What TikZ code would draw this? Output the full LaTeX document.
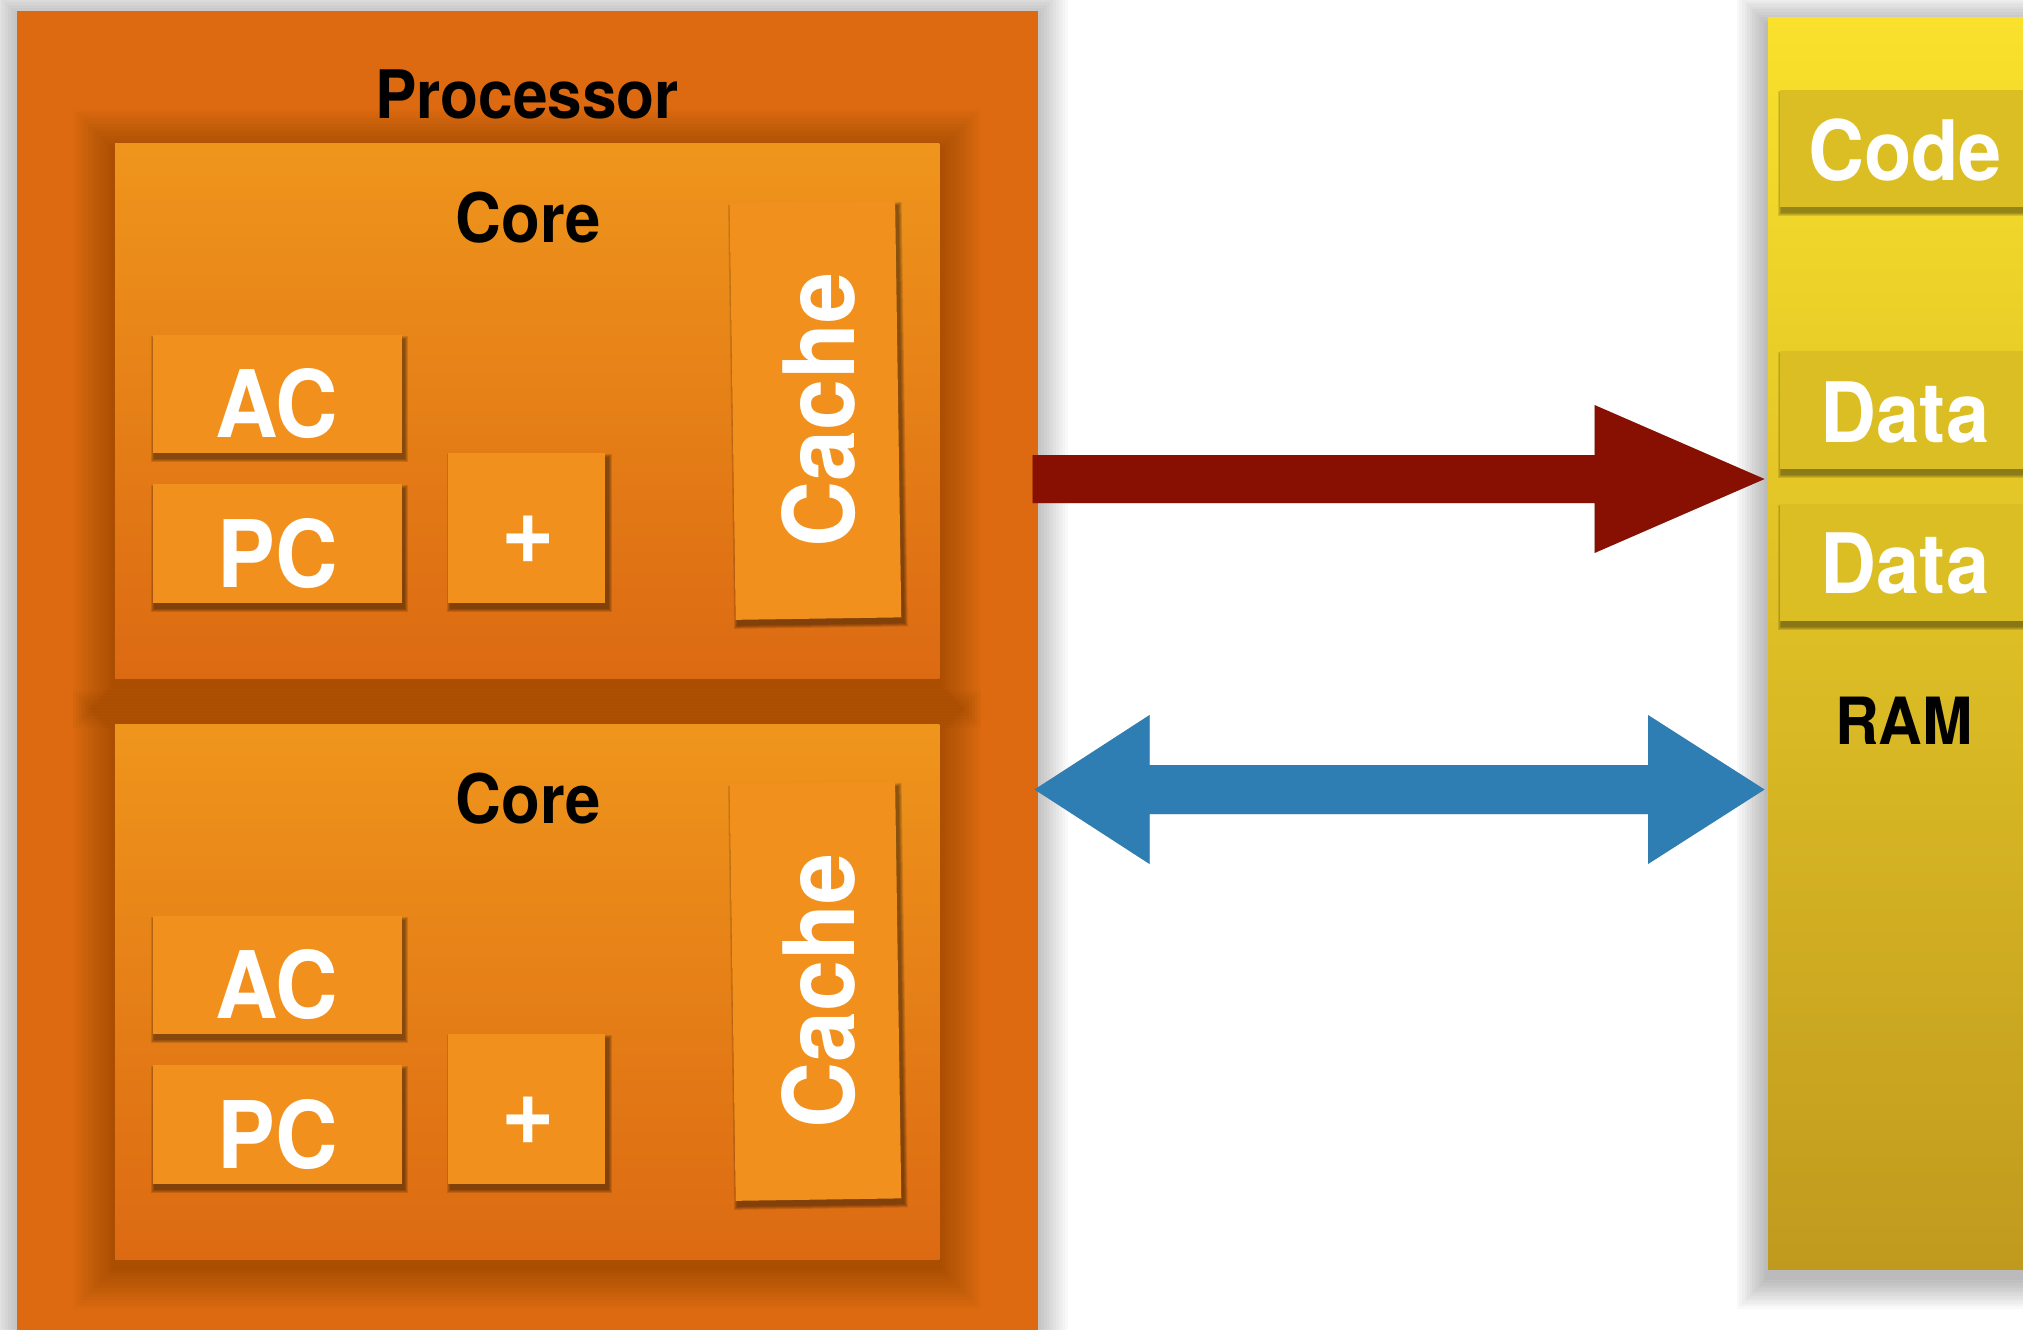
\documentclass[tikz,border=0pt]{standalone}
\usepackage{fontspec}
\setmainfont{TeX Gyre Heros}
\newfontfamily\labelfont[FakeStretch=0.93]{TeX Gyre Heros}
\usetikzlibrary{calc}

\definecolor{procfill}{HTML}{DD6A10}
\definecolor{coretop}{HTML}{EF951C}
\definecolor{corebot}{HTML}{DC6A12}
\definecolor{unitfill}{HTML}{F1901C}
\definecolor{ramtop}{HTML}{F9E12C}
\definecolor{rambot}{HTML}{C09A1E}
\definecolor{slotfill}{HTML}{DBBD24}
\definecolor{fetchred}{HTML}{881002}
\definecolor{busblue}{HTML}{2E7DB3}

\pgfdeclarelayer{shadowA}
\pgfdeclarelayer{blockA}
\pgfdeclarelayer{shadowB}
\pgfdeclarelayer{blockB}
\pgfdeclarelayer{shadowC}
\pgfsetlayers{shadowA,blockA,shadowB,blockB,shadowC,main}

% soft drop shadow round a node: #1 node, #2 layers, #3 growth per layer,
% #4 opacity per layer, #5 x offset, #6 y offset (picture units, y downwards)
\newcommand{\softshadow}[6]{%
  \foreach \k in {1,...,#2}{%
    \fill[black, fill opacity=#4]
      ($(#1.north west)+({#5-\k*#3},{#6-\k*#3})$) --
      ($(#1.north east)+({#5+\k*#3},{#6-\k*#3})$) --
      ($(#1.south east)+({#5+\k*#3},{#6+\k*#3})$) --
      ($(#1.south west)+({#5-\k*#3},{#6+\k*#3})$) -- cycle;
  }}

\tikzset{
  box/.style={inner sep=0pt, outer sep=0pt, anchor=north west},
  procbox/.style={box, fill=procfill},
  corebox/.style={box, top color=coretop, bottom color=corebot,
    minimum width=8.24cm, minimum height=5.35cm},
  unitbox/.style={box, fill=unitfill},
  rambox/.style={box, top color=ramtop, bottom color=rambot},
  slotbox/.style={box, fill=slotfill, minimum width=3cm},
  titletext/.style={font=\labelfont\bfseries\fontsize{19}{22}\selectfont, anchor=base, inner sep=0pt},
  unittext/.style={font=\labelfont\bfseries\fontsize{26.5}{30}\selectfont, text=white, anchor=base, inner sep=0pt},
  cachetext/.style={font=\labelfont\bfseries\fontsize{28}{32}\selectfont, text=white, anchor=base, inner sep=0pt, rotate=90},
  slottext/.style={font=\labelfont\bfseries\fontsize{23.7}{28}\selectfont, text=white, anchor=base, inner sep=0pt},
}

\begin{document}
\begin{tikzpicture}[x=0.01cm, y=-0.01cm]
\useasboundingbox (0,0) rectangle (2023,1329);
\clip (0,0) rectangle (2023,1329);
\begin{pgfonlayer}{shadowA}
  \fill[white] (0,0) rectangle (2023,1329);
\end{pgfonlayer}

% processor package and main memory
\begin{pgfonlayer}{blockA}
  \node[procbox, minimum width=10.20cm, minimum height=13.9cm] (proc) at (17,11) {};
  \node[rambox, minimum width=3.4cm, minimum height=12.52cm] (ram) at (1768,17) {};
\end{pgfonlayer}
\begin{pgfonlayer}{shadowA}
  \softshadow{proc}{10}{3}{0.022}{0}{3}
  \softshadow{ram}{12}{2.6}{0.025}{0}{8}
\end{pgfonlayer}
\node[titletext] (proclabel) at (527,118) {Processor};

% memory slots
\begin{pgfonlayer}{blockB}
  \node[slotbox, minimum height=1.17cm] (code) at (1780,90) {};
  \node[slotbox, minimum height=1.18cm] (data1) at (1780,351) {};
  \node[slotbox, minimum height=1.17cm] (data2) at (1780,504) {};
\end{pgfonlayer}
\begin{pgfonlayer}{shadowB}
  \softshadow{code}{4}{1}{0.11}{2}{5}
  \softshadow{data1}{4}{1}{0.11}{2}{5}
  \softshadow{data2}{4}{1}{0.11}{2}{5}
\end{pgfonlayer}
\node[slottext] (codelabel) at (1905,180.8) {Code};
\node[slottext] (data1label) at (1905,442) {Data};
\node[slottext] (data2label) at (1905,593.75) {Data};
\node[titletext, font=\labelfont\bfseries\fontsize{18.5}{22}\selectfont] (ramlabel) at (1904,744) {RAM};

% connectors between processor and memory
\coordinate (fetchTail) at ([xshift=-0.05cm]proc.east |- 0,479);
\coordinate (fetchTip)  at ([xshift=-0.035cm]ram.west |- 0,479);
\coordinate (busLeft)  at ([xshift=-0.03cm]proc.east |- 0,789.5);
\coordinate (busRight) at ([xshift=-0.035cm]ram.west |- 0,789.5);
\newcommand{\fetchpath}{%
  ($(fetchTail)+(0,-24)$) -- ($(fetchTip)+(-170,-24)$) -- ($(fetchTip)+(-170,-74)$)
  -- (fetchTip) -- ($(fetchTip)+(-170,74)$) -- ($(fetchTip)+(-170,24)$)
  -- ($(fetchTail)+(0,24)$) -- cycle}
\newcommand{\buspath}{%
  (busLeft) -- ($(busLeft)+(115,-74.5)$) -- ($(busLeft)+(115,-24.5)$)
  -- ($(busRight)+(-116.5,-24.5)$) -- ($(busRight)+(-116.5,-74.5)$)
  -- (busRight) -- ($(busRight)+(-116.5,74.5)$) -- ($(busRight)+(-116.5,24.5)$)
  -- ($(busLeft)+(115,24.5)$) -- ($(busLeft)+(115,74.5)$) -- cycle}
\begin{pgfonlayer}{shadowB}
  \foreach \s in {1,2,3}{
    \fill[black, fill opacity=0.08, shift={(0.3*\s,2*\s)}] \fetchpath;
    \fill[black, fill opacity=0.08, shift={(0.3*\s,2*\s)}] \buspath;
  }
\end{pgfonlayer}
\begin{pgfonlayer}{blockB}
  \fill[fetchred] \fetchpath;
  \fill[busblue] \buspath;
\end{pgfonlayer}

% the two cores
\foreach \i/\dy in {1/0, 2/581}{
  \begin{pgfonlayer}{blockB}
    \node[corebox] (core\i) at (115,{143+\dy}) {};
  \end{pgfonlayer}
  \node[unitbox, minimum width=2.49cm, minimum height=1.18cm] (ac\i) at (152.7,{335+\dy}) {};
  \node[unitbox, minimum width=2.49cm, minimum height=1.187cm] (pc\i) at (152.7,{484+\dy}) {};
  \node[unitbox, minimum width=1.57cm, minimum height=1.50cm] (alu\i) at (448,{453+\dy}) {};
  \node[unitbox, anchor=center, minimum width=1.655cm, minimum height=4.16cm, rotate=0.85] (cache\i) at (815.4,{410.5+\dy}) {};
  \begin{pgfonlayer}{shadowB}
    \softshadow{core\i}{14}{3}{0.016}{0}{8}
  \end{pgfonlayer}
  \begin{pgfonlayer}{shadowC}
    \softshadow{ac\i}{4}{1}{0.12}{2.5}{5}
    \softshadow{pc\i}{4}{1}{0.12}{2.5}{5}
    \softshadow{alu\i}{4}{1}{0.12}{2.5}{5}
    \softshadow{cache\i}{4}{1}{0.12}{2.5}{5}
  \end{pgfonlayer}
  \node[titletext, font=\labelfont\bfseries\fontsize{19.4}{22}\selectfont] (corelabel\i) at (528,{242+\dy}) {Core};
  \node[unittext] (aclabel\i) at (277,{437.5+\dy}) {AC};
  \node[unittext] (pclabel\i) at (278,{587+\dy}) {PC};
  \node[unittext, font=\labelfont\bfseries\fontsize{28}{32}\selectfont] (alulabel\i) at (528.5,{563+\dy}) {+};
  \node[cachetext] (cachelabel\i) at (854,{409.7+\dy}) {Cache};
}
\end{tikzpicture}
\end{document}
